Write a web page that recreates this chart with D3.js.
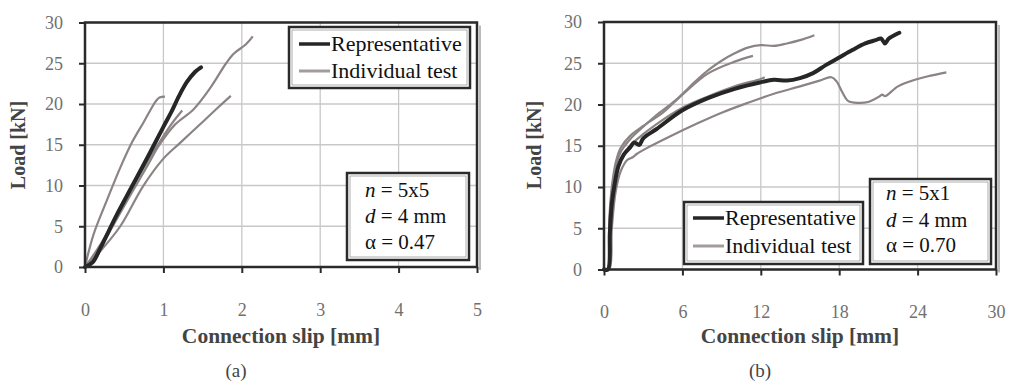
<!DOCTYPE html>
<html><head><meta charset="utf-8">
<script src="https://cdn.jsdelivr.net/npm/d3@7"></script>
<style>body{margin:0;background:#fff}svg{display:block}</style>
</head><body>
<svg id="c" width="1016" height="386"></svg>
<script>
// ---------- data ----------
const xTicksA = [0,1,2,3,4,5];
const xTicksB = [0,6,12,18,24,30];
const yTicks = [0,5,10,15,20,25,30];

// panel (a): [slip mm, load kN]
const repA = [[0,0],[0.1,0.6],[0.2,2.4],[0.4,6.3],[0.6,9.9],[0.8,13.5],[1.0,17.2],[1.1,19.0],[1.2,21.0],[1.3,22.7],[1.4,23.9],[1.48,24.5]];
const indA1 = [[0,0],[0.05,2],[0.12,4.3],[0.28,8.2],[0.45,12.2],[0.6,15.3],[0.75,17.8],[0.9,20.3],[0.95,20.8],[1.02,20.9]];
const indA2 = [[0,0],[0.2,2.5],[0.5,7.5],[0.8,12.5],[0.95,15],[1.15,17.5],[1.38,19.3],[1.6,22.0],[1.8,25.0],[1.9,26.2],[2.05,27.3],[2.14,28.3]];
const indA3 = [[0,0],[0.2,2.8],[0.5,8],[0.8,13],[0.95,15.3],[1.1,17.5],[1.24,19.2]];
const indA4 = [[0,0],[0.2,2],[0.45,5],[0.74,9.9],[1.0,13.3],[1.21,15.2],[1.5,17.8],[1.7,19.6],[1.86,21.0]];

// panel (b)
const repB = [[0,0],[0.3,0],[0.45,4.5],[0.6,8],[0.8,10.2],[1.1,12.5],[1.5,13.9],[2.0,14.8],[2.3,15.4],[2.7,15.1],[3.0,15.9],[4.0,17.0],[6.0,19.3],[8.0,20.8],[10,21.9],[12,22.7],[13,23.0],[14,22.9],[15,23.2],[16,23.8],[17,24.8],[18,25.7],[19,26.6],[20,27.4],[20.8,27.8],[21.2,28.0],[21.5,27.4],[21.8,28.0],[22.6,28.7]];
const indB1 = [[0,0],[0.3,0],[0.4,5],[0.6,9.5],[0.9,12.5],[1.3,14.3],[2,15.8],[3,17.3],[4,18.7],[5.4,20.4],[7,22.8],[8,24.2],[9,25.3],[10,26.2],[11,26.9],[12,27.2],[13,27.1],[14,27.4],[15,27.8],[16.1,28.4]];
const indB2 = [[0,0],[0.3,0],[0.4,6],[0.6,10],[0.9,13],[1.3,14.8],[2,16.2],[3,17.4],[4.5,19],[6,21.2],[8,23.8],[10,25.2],[11.4,25.9]];
const indB3 = [[0,0],[0.35,0],[0.5,5],[0.7,9],[1,12],[1.5,14],[2,15],[3,16.4],[4,17.6],[6,19.6],[8,21],[10,22.2],[12,23.1],[12.3,23.3]];
const indB4 = [[0,0],[0.4,0],[0.6,5],[0.9,9.5],[1.3,12],[1.8,13.3],[2.2,13.6],[2.5,14.0],[3.5,14.9],[5,16.1],[7,17.6],[9,19.0],[11,20.2],[13,21.3],[15,22.2],[16.5,22.9],[17.4,23.3],[17.8,22.8],[18.2,21.6],[18.7,20.4],[19.5,20.2],[20.2,20.3],[21,20.9],[21.3,21.2],[21.5,21.0],[22.5,22.2],[24,23.1],[25,23.5],[26.2,23.9]];

const legendLabels = ["Representative","Individual test"];
const paramsA = [["n"," = 5x5"],["d"," = 4 mm"],["α"," = 0.47"]];
const paramsB = [["n"," = 5x1"],["d"," = 4 mm"],["α"," = 0.70"]];
const xTitle = "Connection slip [mm]";
const yTitle = "Load [kN]";

// ---------- drawing ----------
const svg = d3.select("#c");
const SERIF = "'Liberation Serif','Times New Roman',serif";
const REP = "#262626", IND = "#8c8484", GRID = "#c8c8c8", FRAME = "#2a2a2a";

function panel(o){
  const x = d3.scaleLinear().domain(o.xd).range(o.xr);
  const y = d3.scaleLinear().domain([0,30]).range(o.yr);
  const g = svg.append("g");
  // grid
  g.selectAll(".gx").data(o.xt).join("line")
    .attr("x1",d=>x(d)).attr("x2",d=>x(d)).attr("y1",o.yr[0]).attr("y2",o.yr[1])
    .attr("stroke",GRID).attr("stroke-width",1.3);
  g.selectAll(".gy").data(yTicks).join("line")
    .attr("y1",d=>y(d)).attr("y2",d=>y(d)).attr("x1",o.xr[0]).attr("x2",o.xr[1])
    .attr("stroke",GRID).attr("stroke-width",1.3);
  // axes
  const xa = g.append("g").attr("transform",`translate(0,${o.yr[0]})`)
    .call(d3.axisBottom(x).tickValues(o.xt).tickSize(6).tickPadding(30).tickFormat(d3.format("d")));
  const ya = g.append("g").attr("transform",`translate(${o.xr[0]},0)`)
    .call(d3.axisLeft(y).tickValues(yTicks).tickSize(6).tickPadding(16).tickFormat(d3.format("d")));
  [xa,ya].forEach(a=>{
    a.select(".domain").remove();
    a.selectAll("line").attr("stroke",FRAME).attr("stroke-width",2);
    a.selectAll("text").attr("font-family",SERIF).attr("font-size",18).attr("fill","#707070");
  });
  // curves
  const line = d3.line().x(d=>x(d[0])).y(d=>y(d[1])).curve(d3.curveCatmullRom.alpha(0.5));
  o.ind.forEach(s=>g.append("path").datum(s).attr("d",line).attr("fill","none")
    .attr("stroke",IND).attr("stroke-width",2.2).attr("stroke-linejoin","round"));
  g.append("path").datum(o.rep).attr("d",line).attr("fill","none")
    .attr("stroke",REP).attr("stroke-width",4).attr("stroke-linejoin","round").attr("stroke-linecap","round");
  // frame
  g.append("rect").attr("x",o.xr[0]).attr("y",o.yr[1]).attr("width",o.xr[1]-o.xr[0]).attr("height",o.yr[0]-o.yr[1])
    .attr("fill","none").attr("stroke",FRAME).attr("stroke-width",2.5);
  g.append("line").attr("x1",o.xr[1]+3).attr("x2",o.xr[1]+3).attr("y1",o.yr[1]+3).attr("y2",o.yr[0]+3)
    .attr("stroke","#777").attr("stroke-width",1);
  // titles
  g.append("text").attr("x",(o.xr[0]+o.xr[1])/2).attr("y",343).attr("text-anchor","middle")
    .attr("font-family",SERIF).attr("font-weight","bold").attr("font-size",21.5).attr("fill","#444").text(xTitle);
  g.append("text").attr("transform",`translate(${o.ytx},145) rotate(-90)`).attr("text-anchor","middle")
    .attr("font-family",SERIF).attr("font-weight","bold").attr("font-size",20).attr("fill","#444").text(yTitle);
  g.append("text").attr("x",o.labx).attr("y",377).attr("text-anchor","middle")
    .attr("font-family",SERIF).attr("font-size",19).attr("fill","#444").text(o.lab);
  // legend
  const L = o.leg;
  function box(b){
    g.append("rect").attr("x",b[0]).attr("y",b[1]).attr("width",b[2]-b[0]).attr("height",b[3]-b[1])
      .attr("fill","#fff").attr("stroke",FRAME).attr("stroke-width",2.5);
    g.append("rect").attr("x",b[0]+3).attr("y",b[1]+3).attr("width",b[2]-b[0]-6).attr("height",b[3]-b[1]-6)
      .attr("fill","none").attr("stroke","#999").attr("stroke-width",0.8);
  }
  box(L.box);
  legendLabels.forEach((t,i)=>{
    const yy = L.rows[i];
    g.append("line").attr("x1",L.lx[0]).attr("x2",L.lx[1]).attr("y1",yy-7).attr("y2",yy-7)
      .attr("stroke",i===0?REP:"#a39c9c").attr("stroke-width",i===0?3.5:3);
    g.append("text").attr("x",L.lx[1]+1).attr("y",yy).attr("font-family",SERIF).attr("font-size",22)
      .attr("fill","#111").text(t);
  });
  const P = o.par;
  box(P.box);
  o.params.forEach((p,i)=>{
    const t = g.append("text").attr("x",P.x).attr("y",P.rows[i]).attr("font-family",SERIF).attr("font-size",21).attr("fill","#111");
    t.append("tspan").attr("font-style",p[0]==="α"?"normal":"italic").text(p[0]);
    t.append("tspan").text(p[1]);
  });
}

panel({xd:[0,5], xr:[85,477], yr:[267,22.5], xt:xTicksA, rep:repA, ind:[indA1,indA2,indA3,indA4],
  ytx:25, lab:"(a)", labx:236,
  leg:{box:[289,27,470,88], lx:[299,330], rows:[51,78]},
  par:{box:[347,173,469,260], x:365, rows:[197,223,249]}, params:paramsA});
panel({xd:[0,30], xr:[604,996], yr:[269.5,22], xt:xTicksB, rep:repB, ind:[indB1,indB2,indB3,indB4],
  ytx:541, lab:"(b)", labx:760,
  leg:{box:[684,202,863,264], lx:[693,724], rows:[225,253]},
  par:{box:[870,179,991,264], x:886, rows:[200,227,252]}, params:paramsB});
</script>
</body></html>
